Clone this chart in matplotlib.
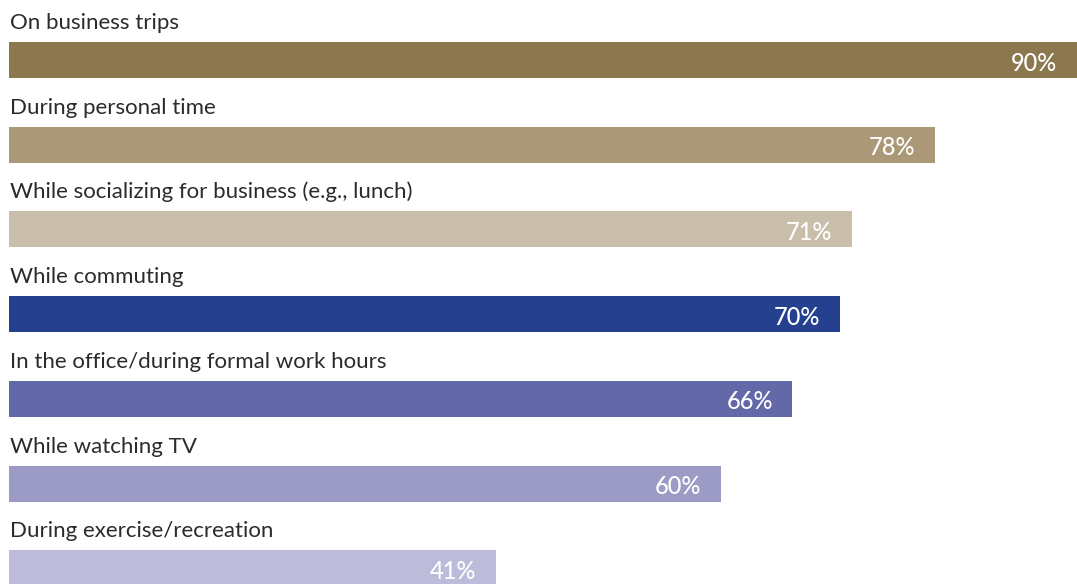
import matplotlib
matplotlib.use("Agg")
import matplotlib.pyplot as plt

# data
categories = [
    "On business trips",
    "During personal time",
    "While socializing for business (e.g., lunch)",
    "While commuting",
    "In the office/during formal work hours",
    "While watching TV",
    "During exercise/recreation",
]
values = [90, 78, 71, 70, 66, 60, 41]
colors = ["#8B784E", "#AB9877", "#C9BEA9", "#24408E", "#6268A8", "#9C9BC5", "#BCBCDA"]

plt.rcParams["font.family"] = ["Lato", "DejaVu Sans"]

fig = plt.figure(figsize=(10.77, 5.84), dpi=100)
ax = fig.add_axes([0, 0, 1, 1])

pos = list(range(len(categories)))
ax.barh(pos, values, height=0.425, color=colors, align="center")

for i, (cat, v) in enumerate(zip(categories, values)):
    ax.text(0.1, i - 0.366, cat, ha="left", va="baseline",
            fontsize=16, fontweight="normal", color="#2b2b2b")
    ax.annotate(f"{v}%", xy=(v, i + 0.125), xytext=(-14, 0),
                textcoords="offset points", ha="right", va="baseline",
                fontsize=17, fontweight="medium", color="white")

ax.set_xlim(-0.758, 90)
ax.set_ylim(6.186, -0.708)
ax.axis("off")

fig.savefig("out.png", dpi=100)
